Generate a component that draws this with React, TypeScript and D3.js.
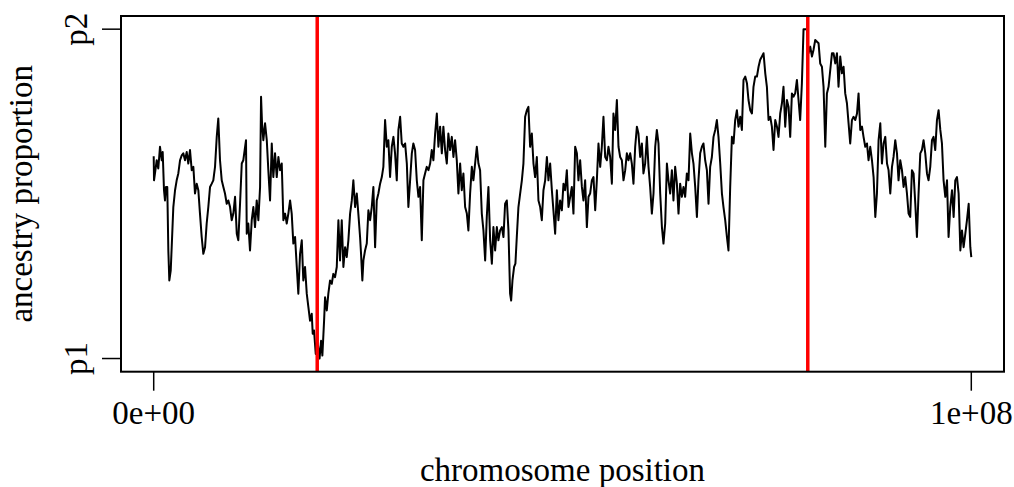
import React from "react";
import * as d3 from "d3";

// chromosome positions (Mb) and ancestry proportion values (0 = p1, 1 = p2)
const positionsMb = [
  0.00, 0.04, 0.37, 0.56, 0.77, 0.98, 1.10, 1.26, 1.38, 1.50, 1.66, 1.79, 1.91, 2.08, 2.20, 2.40, 2.61, 2.81, 3.01, 3.22,
  3.43, 3.62, 3.83, 4.04, 4.23, 4.44, 4.65, 4.85, 5.05, 5.26, 5.46, 5.66, 5.87, 6.07, 6.28, 6.48, 6.68, 6.89, 7.10, 7.29,
  7.50, 7.71, 7.90, 8.11, 8.32, 8.52, 8.72, 8.93, 9.13, 9.34, 9.54, 9.74, 9.95, 10.16, 10.35, 10.56, 10.77, 10.96, 11.29, 11.38,
  11.57, 11.78, 11.99, 12.19, 12.39, 12.60, 12.80, 13.01, 13.13, 13.25, 13.41, 13.62, 13.83, 14.02, 14.23, 14.44, 14.63, 14.84, 15.05, 15.25,
  15.45, 15.66, 15.86, 16.07, 16.27, 16.47, 16.68, 16.88, 17.08, 17.29, 17.50, 17.69, 17.90, 18.11, 18.30, 18.51, 18.72, 18.92, 19.12, 19.33,
  19.45, 19.61, 19.82, 20.10, 20.29, 20.47, 20.63, 20.84, 20.96, 21.17, 21.36, 21.57, 21.78, 21.97, 22.18, 22.39, 22.59, 22.79, 23.00, 23.20,
  23.41, 23.61, 23.81, 24.02, 24.23, 24.42, 24.63, 24.84, 25.03, 25.24, 25.36, 25.52, 25.65, 25.85, 26.06, 26.26, 26.47, 26.67, 26.87, 27.08,
  27.28, 27.48, 27.69, 27.90, 28.09, 28.30, 28.51, 28.70, 28.91, 29.12, 29.32, 29.52, 29.73, 29.93, 30.14, 30.34, 30.54, 30.75, 30.96, 31.15,
  31.36, 31.57, 31.76, 31.97, 32.18, 32.38, 32.58, 32.79, 32.99, 33.19, 33.40, 33.60, 33.81, 34.01, 34.21, 34.42, 34.63, 34.82, 35.03, 35.24,
  35.43, 35.64, 35.85, 36.04, 36.25, 36.46, 36.66, 36.86, 37.07, 37.27, 37.48, 37.68, 37.88, 38.09, 38.30, 38.49, 38.70, 38.91, 39.10, 39.31,
  39.52, 39.72, 39.92, 40.13, 40.33, 40.54, 40.74, 40.94, 41.15, 41.36, 41.55, 41.76, 41.97, 42.16, 42.37, 42.58, 42.78, 42.98, 43.19, 43.39,
  43.59, 43.72, 43.88, 44.08, 44.24, 44.41, 44.61, 44.82, 45.03, 45.22, 45.43, 45.64, 45.83, 46.04, 46.25, 46.45, 46.65, 46.86, 47.06, 47.27,
  47.47, 47.67, 47.88, 48.09, 48.28, 48.49, 48.70, 48.89, 49.10, 49.31, 49.50, 49.71, 49.92, 50.12, 50.32, 50.53, 50.73, 50.94, 51.14, 51.34,
  51.55, 51.76, 51.95, 52.16, 52.37, 52.56, 52.77, 52.98, 53.18, 53.38, 53.59, 53.79, 54.00, 54.20, 54.40, 54.61, 54.81, 55.01, 55.22, 55.43,
  55.62, 55.83, 56.04, 56.23, 56.44, 56.65, 56.85, 57.05, 57.26, 57.46, 57.67, 57.87, 58.07, 58.28, 58.48, 58.68, 58.89, 59.10, 59.29, 59.50,
  59.71, 59.90, 60.11, 60.32, 60.52, 60.72, 60.93, 61.13, 61.34, 61.54, 61.74, 61.95, 62.16, 62.35, 62.56, 62.77, 62.96, 63.17, 63.38, 63.57,
  63.78, 63.99, 64.19, 64.39, 64.60, 64.80, 65.00, 65.21, 65.41, 65.62, 65.83, 66.02, 66.23, 66.44, 66.63, 66.84, 67.05, 67.24, 67.45, 67.66,
  67.86, 68.06, 68.27, 68.47, 68.68, 68.88, 69.08, 69.29, 69.50, 69.69, 69.90, 70.11, 70.30, 70.51, 70.72, 70.92, 71.12, 71.33, 71.53, 71.74,
  71.94, 72.14, 72.35, 72.56, 72.75, 72.96, 73.17, 73.36, 73.57, 73.78, 73.98, 74.18, 74.39, 74.59, 74.80, 75.00, 75.20, 75.41, 75.61, 75.81,
  76.02, 76.23, 76.42, 76.63, 76.84, 77.03, 77.24, 77.45, 77.65, 77.85, 78.06, 78.25, 78.46, 78.67, 78.87, 79.07, 79.28, 79.48, 79.89, 80.09,
  80.30, 80.51, 80.70, 80.91, 81.32, 81.52, 81.73, 81.93, 82.14, 82.34, 82.54, 82.75, 82.96, 83.15, 83.36, 83.57, 83.76, 83.97, 84.18, 84.38,
  84.58, 84.79, 84.99, 85.19, 85.40, 85.60, 85.81, 86.02, 86.21, 86.42, 86.63, 86.82, 87.03, 87.24, 87.43, 87.64, 87.85, 88.05, 88.26, 88.46,
  88.66, 88.87, 89.07, 89.27, 89.48, 89.69, 89.88, 90.09, 90.30, 90.49, 90.70, 90.91, 91.10, 91.31, 91.52, 91.72, 91.92, 92.13, 92.33, 92.53,
  92.74, 92.94, 93.15, 93.35, 93.55, 93.76, 93.96, 94.16, 94.37, 94.58, 94.77, 94.98, 95.19, 95.38, 95.59, 95.80, 96.00, 96.21, 96.41, 96.61,
  96.82, 97.03, 97.22, 97.43, 97.64, 97.84, 98.04, 98.25, 98.45, 98.66, 98.86, 99.06, 99.27, 99.47, 99.68, 99.88, 100.0,
];

const ancestry = [
  0.614, 0.541, 0.602, 0.577, 0.643, 0.602, 0.627, 0.511, 0.480, 0.521, 0.521, 0.328, 0.237, 0.267, 0.338, 0.460, 0.511, 0.541, 0.562, 0.602,
  0.617, 0.623, 0.602, 0.627, 0.592, 0.633, 0.572, 0.582, 0.501, 0.531, 0.511, 0.440, 0.369, 0.318, 0.338, 0.410, 0.460, 0.521, 0.531, 0.541,
  0.582, 0.673, 0.729, 0.602, 0.541, 0.521, 0.501, 0.470, 0.480, 0.460, 0.420, 0.440, 0.491, 0.379, 0.359, 0.470, 0.592, 0.602, 0.663, 0.379,
  0.410, 0.328, 0.420, 0.460, 0.399, 0.480, 0.420, 0.521, 0.795, 0.714, 0.663, 0.714, 0.663, 0.572, 0.480, 0.653, 0.551, 0.623, 0.551, 0.612,
  0.572, 0.592, 0.420, 0.440, 0.410, 0.440, 0.480, 0.440, 0.349, 0.369, 0.278, 0.197, 0.318, 0.359, 0.237, 0.278, 0.197, 0.156, 0.115, 0.136,
  0.075, 0.085, 0.014, 0.039, 0.000, 0.054, 0.009, 0.115, 0.186, 0.146, 0.197, 0.237, 0.227, 0.257, 0.247, 0.278, 0.420, 0.298, 0.420, 0.278,
  0.338, 0.308, 0.359, 0.440, 0.480, 0.541, 0.460, 0.501, 0.440, 0.369, 0.318, 0.237, 0.298, 0.328, 0.349, 0.450, 0.420, 0.460, 0.521, 0.338,
  0.480, 0.501, 0.531, 0.551, 0.582, 0.724, 0.643, 0.663, 0.551, 0.643, 0.673, 0.623, 0.541, 0.694, 0.734, 0.653, 0.643, 0.653, 0.592, 0.460,
  0.541, 0.623, 0.653, 0.633, 0.541, 0.491, 0.521, 0.359, 0.541, 0.562, 0.582, 0.572, 0.592, 0.633, 0.602, 0.683, 0.744, 0.643, 0.704, 0.623,
  0.704, 0.633, 0.592, 0.683, 0.633, 0.673, 0.612, 0.663, 0.602, 0.501, 0.592, 0.511, 0.562, 0.460, 0.440, 0.389, 0.501, 0.582, 0.541, 0.592,
  0.643, 0.592, 0.572, 0.440, 0.389, 0.298, 0.430, 0.521, 0.359, 0.288, 0.399, 0.328, 0.399, 0.359, 0.389, 0.399, 0.369, 0.470, 0.480, 0.389,
  0.197, 0.176, 0.237, 0.278, 0.288, 0.369, 0.460, 0.501, 0.541, 0.592, 0.734, 0.754, 0.764, 0.643, 0.683, 0.592, 0.551, 0.612, 0.480, 0.460,
  0.420, 0.511, 0.541, 0.612, 0.541, 0.592, 0.511, 0.450, 0.379, 0.511, 0.420, 0.480, 0.450, 0.531, 0.511, 0.572, 0.460, 0.491, 0.521, 0.440,
  0.643, 0.623, 0.541, 0.602, 0.521, 0.480, 0.541, 0.399, 0.491, 0.501, 0.541, 0.551, 0.450, 0.541, 0.653, 0.582, 0.643, 0.734, 0.612, 0.602,
  0.643, 0.612, 0.531, 0.744, 0.694, 0.785, 0.643, 0.612, 0.602, 0.541, 0.572, 0.623, 0.602, 0.623, 0.592, 0.531, 0.643, 0.704, 0.683, 0.612,
  0.653, 0.562, 0.592, 0.673, 0.582, 0.521, 0.440, 0.501, 0.643, 0.694, 0.653, 0.501, 0.399, 0.349, 0.410, 0.592, 0.541, 0.501, 0.572, 0.480,
  0.582, 0.531, 0.440, 0.531, 0.491, 0.521, 0.491, 0.562, 0.541, 0.683, 0.623, 0.592, 0.521, 0.430, 0.541, 0.623, 0.643, 0.653, 0.602, 0.572,
  0.470, 0.582, 0.612, 0.673, 0.694, 0.724, 0.673, 0.592, 0.501, 0.460, 0.420, 0.369, 0.328, 0.521, 0.673, 0.653, 0.724, 0.754, 0.704, 0.734,
  0.694, 0.846, 0.856, 0.836, 0.785, 0.754, 0.744, 0.825, 0.856, 0.856, 0.886, 0.907, 0.917, 0.927, 0.866, 0.825, 0.724, 0.734, 0.704, 0.633,
  0.724, 0.704, 0.673, 0.744, 0.775, 0.825, 0.704, 0.785, 0.764, 0.673, 0.805, 0.795, 0.805, 0.846, 0.785, 0.724, 0.836, 1.000, 1.000, 0.927,
  0.947, 0.917, 0.937, 0.967, 0.957, 0.896, 0.886, 0.825, 0.643, 0.805, 0.825, 0.876, 0.927, 0.927, 0.896, 0.927, 0.825, 0.917, 0.866, 0.886,
  0.805, 0.775, 0.714, 0.653, 0.724, 0.734, 0.724, 0.744, 0.805, 0.694, 0.704, 0.673, 0.643, 0.653, 0.602, 0.643, 0.602, 0.551, 0.430, 0.501,
  0.663, 0.714, 0.592, 0.653, 0.673, 0.592, 0.572, 0.501, 0.582, 0.612, 0.663, 0.623, 0.541, 0.602, 0.572, 0.521, 0.551, 0.501, 0.440, 0.430,
  0.572, 0.562, 0.470, 0.369, 0.501, 0.623, 0.633, 0.663, 0.623, 0.562, 0.541, 0.582, 0.663, 0.673, 0.633, 0.724, 0.754, 0.694, 0.653, 0.541,
  0.491, 0.541, 0.369, 0.460, 0.511, 0.430, 0.541, 0.551, 0.501, 0.328, 0.389, 0.338, 0.379, 0.420, 0.470, 0.338, 0.308,
];

const breakpointsMb = [20, 80];
const xTickValues = [0, 1e8];
const xTickLabels = ["0e+00", "1e+08"];
const yTickValues = [0, 1];
const yTickLabels = ["p1", "p2"];
const xTitle = "chromosome position";
const yTitle = "ancestry proportion";

const W = 1014;
const H = 487;
const box = { left: 121, right: 1004, top: 16, bottom: 371.7 };
const FONT = "'Liberation Serif', 'Times New Roman', Times, serif";
const FS = 33;

export default function App() {
  const pts = positionsMb.map((p, i) => ({ x: p * 1e6, y: ancestry[i] }));
  const xMin = d3.min(pts, (d) => d.x) as number;
  const xMax = d3.max(pts, (d) => d.x) as number;
  const yMin = d3.min(pts, (d) => d.y) as number;
  const yMax = d3.max(pts, (d) => d.y) as number;
  const xPad = (xMax - xMin) * 0.04;
  const yPad = (yMax - yMin) * 0.04;
  const x = d3.scaleLinear().domain([xMin - xPad, xMax + xPad]).range([box.left, box.right]);
  const y = d3.scaleLinear().domain([yMin - yPad, yMax + yPad]).range([box.bottom, box.top]);
  const line = d3
    .line<{ x: number; y: number }>()
    .x((d) => x(d.x))
    .y((d) => y(d.y));

  const midY = (box.top + box.bottom) / 2;
  const midX = (box.left + box.right) / 2;

  return (
    <svg
      width={W}
      height={H}
      style={{ position: "absolute", left: 0, top: 0, background: "#fff" }}
      fontFamily={FONT}
    >
      <rect x={0} y={0} width={W} height={H} fill="#fff" />
      <path d={line(pts) || ""} fill="none" stroke="#000" strokeWidth={2} strokeLinejoin="round" />
      {breakpointsMb.map((b, i) => (
        <line
          key={"bp" + i}
          x1={x(b * 1e6)}
          x2={x(b * 1e6)}
          y1={box.top}
          y2={box.bottom}
          stroke="#ff0000"
          strokeWidth={3.5}
        />
      ))}
      <rect
        x={box.left}
        y={box.top}
        width={box.right - box.left}
        height={box.bottom - box.top}
        fill="none"
        stroke="#000"
        strokeWidth={2}
      />
      {xTickValues.map((v, i) => (
        <g key={"xt" + i}>
          <line x1={x(v)} x2={x(v)} y1={box.bottom} y2={box.bottom + 19} stroke="#000" strokeWidth={1.5} />
          <text x={x(v)} y={424} textAnchor="middle" fontSize={FS} fill="#000">
            {xTickLabels[i]}
          </text>
        </g>
      ))}
      {yTickValues.map((v, i) => (
        <g key={"yt" + i}>
          <line x1={box.left} x2={box.left - 19} y1={y(v)} y2={y(v)} stroke="#000" strokeWidth={1.5} />
          <text
            transform={`translate(${87},${y(v)}) rotate(-90)`}
            textAnchor="middle"
            fontSize={FS}
            fill="#000"
          >
            {yTickLabels[i]}
          </text>
        </g>
      ))}
      <text x={midX} y={481} textAnchor="middle" fontSize={FS} fill="#000">
        {xTitle}
      </text>
      <text
        transform={`translate(${32},${midY}) rotate(-90)`}
        textAnchor="middle"
        fontSize={FS}
        fill="#000"
      >
        {yTitle}
      </text>
    </svg>
  );
}
